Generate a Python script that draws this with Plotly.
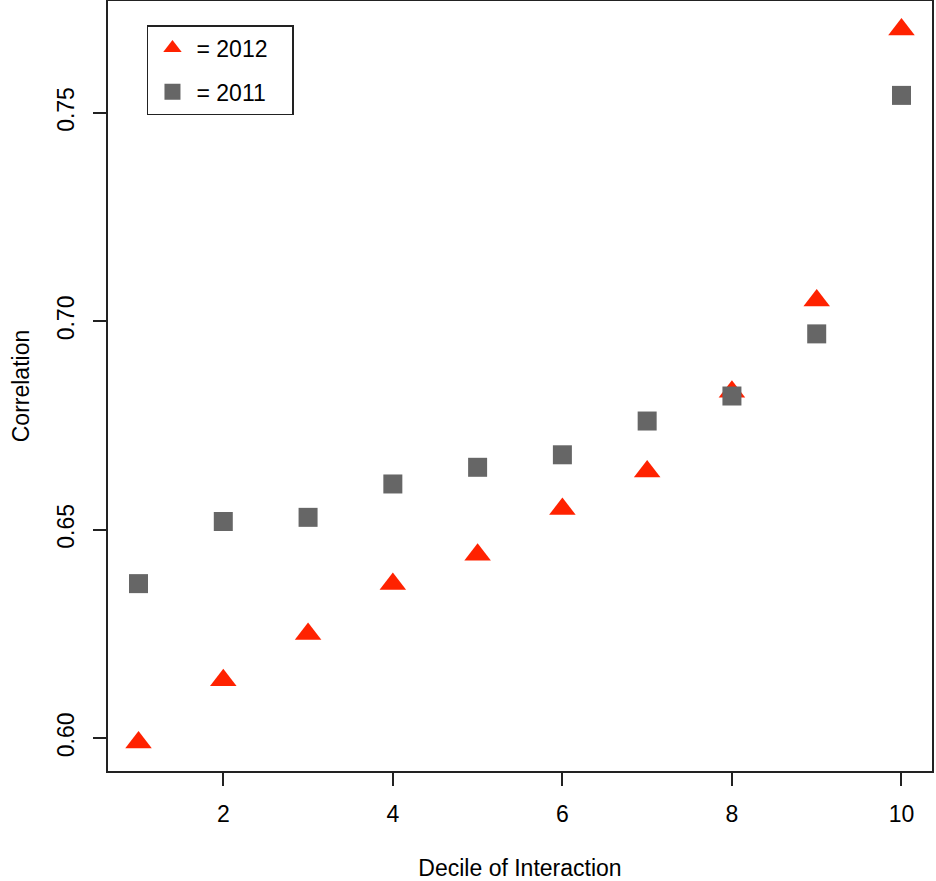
import plotly.graph_objects as go

deciles = [1, 2, 3, 4, 5, 6, 7, 8, 9, 10]
corr_2012 = [0.5990, 0.6139, 0.6250, 0.6370, 0.6440, 0.6550, 0.6640, 0.6831, 0.7050, 0.7700]
corr_2011 = [0.6371, 0.6520, 0.6530, 0.6610, 0.6650, 0.6680, 0.6761, 0.6821, 0.6970, 0.7542]
x_ticks = [2, 4, 6, 8, 10]
y_ticks = [0.60, 0.65, 0.70, 0.75]

def r_range(vals):
    lo, hi = min(vals), max(vals)
    d = (hi - lo) * 0.04
    return [lo - d, hi + d]

font = "Liberation Sans, Arial, Helvetica, sans-serif"

fig = go.Figure()
fig.add_trace(go.Scatter(
    x=deciles, y=corr_2012, mode="markers", name="= 2012\u00a0\u00a0\u00a0", legendgroup="a",
    marker=dict(symbol="triangle-up", size=23, color="#FF2200", line=dict(width=0)),
))
fig.add_trace(go.Scatter(
    x=deciles, y=corr_2011, mode="markers", name="= 2011\u00a0\u00a0\u00a0", legendgroup="b",
    marker=dict(symbol="square", size=19, color="#666666", line=dict(width=0)),
))

axis_common = dict(
    showgrid=False, zeroline=False, showline=True, mirror=True,
    linecolor="#222222", linewidth=1.5, ticks="outside", ticklen=13,
    tickwidth=1.5, tickcolor="#222222",
    tickfont=dict(family=font, size=23, color="#000000"),
)

fig.update_layout(
    width=936, height=881,
    margin=dict(l=108, r=4, t=1, b=110, autoexpand=False),
    paper_bgcolor="white", plot_bgcolor="white",
    font=dict(family=font, color="#000000"),
    xaxis=dict(range=r_range(deciles), tickvals=x_ticks, ticklabelstandoff=9,
               title=dict(text="Decile of Interaction", font=dict(family=font, size=23), standoff=35),
               **axis_common),
    yaxis=dict(range=r_range(corr_2012 + corr_2011), tickvals=y_ticks, tickformat=".2f",
               tickangle=-90, ticklabelstandoff=10,
               title=dict(text="Correlation", font=dict(family=font, size=23), standoff=17),
               **axis_common),
    legend=dict(x=0.0473, y=0.9688, xanchor="left", yanchor="top",
                bordercolor="#222222", borderwidth=1.5, bgcolor="white",
                font=dict(family=font, size=23, color="#000000"),
                tracegroupgap=11, itemsizing="trace", itemwidth=38),
    showlegend=True,
)

fig.write_html("out.html", config={"displayModeBar": False},
               post_script="document.body.style.margin='0';document.body.style.padding='0';")
